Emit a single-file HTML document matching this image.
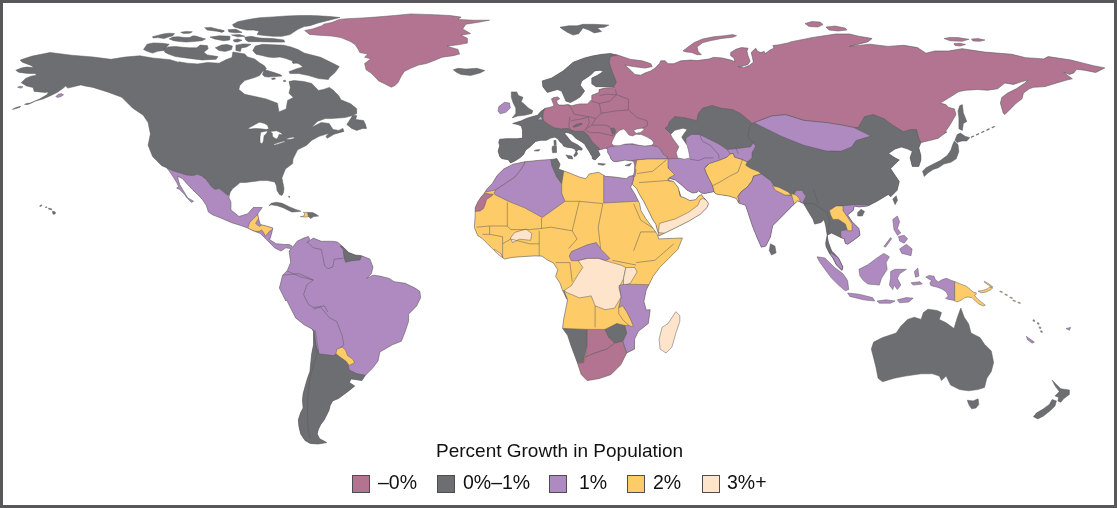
<!DOCTYPE html>
<html><head><meta charset="utf-8"><title>Percent Growth in Population</title>
<style>
html,body{margin:0;padding:0;background:#fff;}
#frame{position:relative;width:1117px;height:508px;box-sizing:border-box;border:3px solid #58585b;background:#fff;overflow:hidden;}
#map{position:absolute;left:-3px;top:-3px;}
#title{position:absolute;left:433px;top:437px;white-space:nowrap;font:19px "Liberation Sans",Arial,sans-serif;color:#111;}
.lg{position:absolute;top:472px;width:18px;height:18px;box-sizing:border-box;border:1px solid #4d4d4f;}
.lt{position:absolute;top:468px;font:19.5px "Liberation Sans",Arial,sans-serif;color:#111;white-space:nowrap;}
</style></head><body>
<div id="frame">
<svg id="map" width="1117" height="508" viewBox="0 0 1117 508">
<defs><path id="p_mx" d="M166.9,167.9 169.8,171.8 173.8,177.7 176.7,182.6 178.7,186.6 176.7,188.1 179.7,189.5 184.6,194.4 186.6,197.4 190.5,199.4 193.5,201.3 191.5,202.3 188.5,199.4 185.6,194.4 182.6,189.5 179.7,184.6 178.2,179.7 177.7,176.2 182.6,178.7 187.6,184.6 192.5,189.5 197.4,194.4 202.3,199.4 206.3,205.3 208.4,212.0 213.0,215.0 219.1,217.3 231.7,222.7 240.6,225.4 247.8,228.1 253.2,230.8 260.4,233.5 263.9,237.1 271.1,244.2 274.5,247.8 281.0,251.0 285.8,247.8 290.7,248.6 292.3,246.1 289.1,244.5 284.2,244.5 276.1,243.7 269.7,239.7 271.1,235.3 272.9,228.1 267.5,226.3 260.4,224.5 258.6,219.1 257.7,213.8 262.2,207.5 253.2,207.5 247.8,213.8 238.9,216.5 233.5,212.0 230.9,210.0 230.9,202.3 228.9,197.4 229.9,192.5 227.9,195.4 223.0,191.5 219.1,188.5 215.1,189.5 211.2,186.6 206.3,179.7 201.3,175.7 197.4,174.3 192.5,175.7 185.6,174.8 179.7,172.8 172.8,170.8Z"/><clipPath id="mx"><use href="#p_mx"/></clipPath><path id="p_sa" d="M292.3,247.8 297.1,241.3 303.6,238.1 308.4,236.5 310.0,239.7 306.8,242.9 313.3,238.1 321.3,241.3 332.7,241.3 337.5,242.1 344.0,247.8 348.8,252.6 355.3,255.0 361.7,255.8 369.8,259.1 373.0,267.1 371.4,273.6 366.6,278.4 373.0,275.2 379.5,276.0 389.2,278.4 394.0,281.7 405.3,283.3 415.0,288.1 419.8,291.3 420.6,297.8 416.6,305.9 408.5,314.3 408.5,321.5 404.9,332.3 401.3,341.2 392.3,344.8 379.8,352.0 378.0,360.9 372.6,368.1 365.4,375.3 361.9,380.6 351.1,378.9 349.3,382.4 354.7,386.0 353.9,386.7 348.0,391.4 338.5,398.5 332.6,400.9 330.2,405.6 329.0,410.3 326.7,415.0 324.3,419.8 320.8,424.5 318.4,429.2 317.2,433.9 319.6,438.7 326.7,442.6 318.0,444.0 310.2,443.4 305.0,440.5 300.7,433.9 299.0,427.0 298.3,419.8 300.5,413.0 303.1,408.0 302.5,400.0 303.1,393.8 305.5,385.0 307.8,377.2 309.9,371.7 311.7,353.8 313.5,344.8 313.5,331.4 311.7,328.7 304.5,325.1 295.6,317.9 292.0,310.8 286.6,300.0 285.8,301.0 282.6,294.6 279.4,288.1 281.0,281.7 282.6,275.2 287.4,270.4 290.7,262.3 289.1,251.0Z"/><clipPath id="sa"><use href="#p_sa"/></clipPath><path id="p_eu" d="M542.2,80.9 551.6,78.1 563.1,70.9 573.1,62.3 584.6,57.9 593.3,55.8 601.9,54.3 610.5,53.6 617.7,55.1 622.0,56.5 630.6,59.4 642.1,60.8 650.8,63.7 652.2,66.6 645.0,68.0 633.5,66.6 624.9,65.1 630.6,70.2 634.9,74.5 640.7,75.2 645.0,73.0 650.8,70.9 655.1,68.0 659.4,63.7 660.8,60.8 665.1,60.8 668.0,63.7 673.8,63.7 680.9,60.8 690.6,60.1 697.1,60.6 709.0,59.0 713.3,57.4 722.0,57.9 730.7,60.1 735.0,61.7 733.9,57.9 730.7,55.7 730.7,52.5 736.1,49.2 741.5,47.6 748.0,48.2 746.9,51.4 748.0,55.7 750.1,61.2 748.0,64.4 741.5,66.6 738.2,66.6 743.6,67.7 749.1,65.5 753.4,62.2 752.3,56.8 751.2,52.5 755.6,48.2 757.7,51.4 761.0,52.5 764.2,51.4 765.3,53.6 770.0,50.0 774.0,48.2 772.9,45.5 778.3,44.9 789.1,42.7 790.6,41.9 813.2,37.4 835.9,34.0 849.5,34.0 858.5,36.2 872.1,38.5 867.6,41.9 849.5,46.4 869.8,44.2 888.0,46.4 903.8,45.3 917.4,47.6 925.9,53.2 934.9,51.0 948.5,51.0 962.1,48.7 984.8,52.1 1011.9,54.3 1025.5,57.7 1043.6,58.9 1048.2,56.6 1070.8,60.0 1084.4,63.4 1093.4,65.7 1104.8,67.9 1095.7,72.5 1084.4,70.2 1076.6,69.3 1073.8,72.9 1069.4,74.4 1063.7,72.2 1068.0,75.8 1072.3,78.7 1066.6,80.1 1056.5,83.0 1045.0,86.6 1033.5,87.3 1029.2,88.8 1023.4,93.1 1022.0,98.8 1016.3,103.1 1010.5,108.9 1004.8,114.6 1003.3,113.2 1000.4,103.1 1001.9,97.4 1007.6,93.1 1016.3,88.8 1024.9,83.0 1027.8,80.1 1022.0,81.6 1013.4,84.4 1004.8,83.0 997.6,88.8 987.5,90.2 977.4,89.5 965.9,90.2 958.8,91.6 947.3,98.8 940.1,103.1 945.8,104.6 948.7,107.4 954.4,108.9 955.9,114.6 950.1,124.7 944.4,133.0 946.9,131.8 938.2,138.3 929.6,140.5 920.9,142.6 918.8,148.0 920.9,155.6 920.9,159.9 918.8,166.4 912.3,166.4 910.1,157.8 912.3,151.3 907.9,149.1 901.4,147.0 894.9,149.1 888.5,153.5 894.9,157.8 899.3,159.9 894.9,164.3 890.6,168.6 894.9,175.1 899.3,181.6 897.1,190.3 890.6,196.8 888.3,194.5 877.0,201.3 867.9,205.9 858.9,207.0 854.3,205.9 853.2,210.4 847.6,214.9 852.1,221.7 858.9,228.5 860.0,235.3 854.3,239.8 847.6,244.3 845.3,243.2 844.2,238.7 840.8,237.6 836.2,235.3 831.7,233.0 827.2,235.3 828.3,242.1 831.7,251.1 838.5,257.9 843.0,267.0 841.9,270.4 836.2,264.7 832.8,257.9 829.4,253.4 826.0,246.6 825.7,243.0 827.2,235.1 825.7,225.7 824.1,219.4 821.0,222.5 814.6,224.1 813.1,219.4 808.3,211.5 803.6,203.6 797.6,200.8 793.0,205.3 788.5,209.8 779.5,218.9 772.7,225.7 770.4,237.0 765.9,246.1 761.3,247.2 756.8,237.0 752.3,225.7 747.8,212.1 745.5,205.3 738.7,203.0 736.4,198.5 729.6,196.2 716.1,194.0 713.8,191.7 705.0,193.5 701.6,193.1 698.6,190.8 697.1,192.3 692.7,193.1 686.8,190.1 682.4,185.7 675.0,179.8 670.0,178.5 668.0,180.0 673.5,181.5 677.9,187.2 679.0,190.5 681.0,196.8 683.9,197.5 689.8,200.5 695.7,199.7 698.6,196.0 701.6,194.5 703.0,197.0 706.0,200.0 708.5,203.5 707.0,207.6 700.2,214.3 688.9,221.1 675.3,227.9 658.7,236.0 658.7,234.4 657.3,230.0 655.8,224.1 652.8,219.7 649.9,213.7 646.9,207.8 644.0,201.9 639.5,194.5 636.6,188.6 632.2,184.2 633.5,179.0 633.6,175.0 634.7,170.9 634.7,165.5 633.6,161.2 625.0,160.1 616.3,161.7 613.1,161.2 610.9,159.0 609.8,155.7 607.7,152.5 607.7,149.2 605.5,148.2 602.2,149.2 597.9,150.3 600.1,154.7 597.9,157.2 595.2,159.9 592.6,159.0 591.9,156.0 590.7,154.4 589.5,152.0 587.8,149.6 586.0,146.7 584.8,144.3 582.5,142.5 578.9,140.2 576.0,138.4 573.6,136.0 571.8,134.3 568.9,133.1 566.5,132.5 564.7,133.1 564.7,133.7 567.1,136.6 569.5,139.6 571.8,142.0 575.4,143.7 577.7,144.9 580.7,147.3 582.5,149.0 581.3,150.2 578.9,149.6 577.1,150.8 576.5,152.0 577.7,153.2 576.8,155.0 574.5,156.8 573.8,155.0 575.4,153.2 576.0,151.4 574.8,149.0 571.8,147.9 567.1,147.3 563.5,146.1 562.4,143.7 560.0,142.0 558.0,139.0 555.0,137.1 550.6,138.1 546.3,140.3 540.9,140.3 535.5,141.4 530.1,146.8 525.7,150.1 523.6,154.4 520.3,157.6 514.9,160.9 510.6,163.0 508.4,159.8 501.9,158.7 499.7,156.5 498.1,151.1 499.7,145.7 498.7,142.5 499.7,139.2 506.2,138.7 517.1,138.7 522.5,138.1 522.5,134.9 522.5,130.6 521.4,126.2 518.1,124.6 512.7,123.5 521.4,120.8 526.3,118.4 532.6,116.5 537.6,115.2 540.8,111.4 545.2,108.3 549.0,107.6 552.8,106.4 554.0,105.1 552.8,102.6 551.5,98.8 554.0,97.6 557.8,96.9 559.7,98.8 556.5,100.7 557.2,103.2 559.1,105.1 564.1,105.1 567.9,104.5 571.7,105.8 576.7,104.5 580.0,103.9 581.8,103.9 587.5,103.9 591.8,99.6 591.8,95.3 599.0,92.4 599.0,89.6 604.8,88.1 614.8,87.4 613.4,86.7 604.8,86.7 596.1,86.7 591.8,83.8 591.8,78.1 597.6,75.2 603.3,71.6 600.4,70.2 594.7,70.9 590.4,75.2 581.8,80.9 580.3,85.3 584.6,91.0 580.3,96.8 576.0,99.6 570.3,102.5 565.9,101.1 561.6,91.0 557.3,89.6 547.3,92.4 542.9,86.7Z"/><clipPath id="eu"><use href="#p_eu"/></clipPath><path id="p_af" d="M513.3,164.2 524.6,161.8 540.7,160.2 552.0,159.4 556.9,158.6 560.1,164.2 558.5,169.1 569.8,173.1 579.5,177.1 585.9,178.7 589.2,173.9 598.8,172.3 605.3,176.3 615.0,177.1 626.3,178.7 629.0,176.5 633.0,175.5 633.5,179.0 632.0,183.5 630.7,187.2 635.1,194.5 639.5,203.4 641.0,210.8 645.5,218.2 649.9,224.1 654.3,230.0 657.3,234.4 658.7,238.9 682.4,238.0 677.9,249.3 668.8,258.4 659.7,267.5 653.0,276.5 646.2,290.1 643.9,301.4 646.2,310.0 650.2,309.7 648.3,323.5 638.4,331.3 634.5,339.2 634.5,349.1 626.6,353.0 620.7,364.8 610.9,374.6 599.1,378.6 587.2,380.6 581.3,374.6 577.4,362.8 571.5,347.1 567.6,335.3 562.6,328.4 563.6,319.5 565.6,309.7 567.6,299.8 563.6,290.0 566.9,299.2 562.4,290.1 560.1,283.3 555.6,276.5 557.8,269.7 553.3,262.9 546.5,259.5 542.0,256.1 534.3,255.9 521.7,256.7 512.2,257.4 504.4,259.0 498.1,254.3 493.3,249.6 487.0,243.3 482.3,238.5 477.6,235.4 474.4,227.5 475.2,214.9 475.2,207.8 477.6,202.3 480.7,197.6 483.9,193.7 487.4,188.4 492.3,183.6 497.1,175.5 503.6,169.1Z"/><clipPath id="af"><use href="#p_af"/></clipPath></defs>
<path d="M20.2,60.0 32.2,56.1 50.1,52.5 71.6,55.2 93.1,57.0 111.0,59.3 125.3,57.0 139.7,55.8 152.2,57.9 170.1,59.7 179.1,62.4 178.8,61.8 187.4,63.2 197.5,63.9 207.6,62.5 219.1,63.2 226.3,59.6 232.0,57.4 232.9,52.0 244.7,53.9 247.6,56.9 254.5,58.9 259.5,62.8 264.4,65.8 266.4,68.7 262.4,71.7 259.5,75.6 254.5,77.6 244.7,80.5 239.8,85.5 238.8,89.4 244.7,94.3 266.0,98.9 277.5,103.3 278.9,111.9 286.1,109.0 287.6,100.4 293.3,97.5 289.0,93.2 290.4,87.4 289.0,81.5 293.9,80.5 303.8,81.5 311.7,83.5 315.6,87.4 318.5,90.4 323.5,89.4 329.4,87.4 333.0,90.0 338.9,95.9 340.9,99.8 350.7,103.8 356.7,108.7 356.7,113.6 352.7,115.6 344.8,117.6 331.1,118.6 325.1,118.6 317.3,121.5 311.4,127.4 321.2,122.5 329.1,123.5 333.0,129.4 338.9,130.4 342.9,128.4 343.9,131.4 334.0,134.3 327.1,138.3 326.1,136.3 329.1,133.3 319.2,136.3 312.3,140.0 311.2,140.8 306.6,145.3 297.6,149.8 293.0,158.9 292.6,163.6 285.4,169.0 281.9,177.9 284.0,188.5 283.5,192.5 282.0,195.5 279.5,194.5 277.0,190.5 276.5,186.0 274.7,182.0 267.5,180.6 260.4,180.6 253.2,181.5 246.0,182.4 240.0,182.6 237.8,184.6 232.8,188.5 229.9,192.5 227.9,195.4 223.0,191.5 219.1,188.5 215.1,189.5 211.2,186.6 206.3,179.7 201.3,175.7 197.4,174.3 192.5,175.7 185.6,174.8 179.7,172.8 172.8,170.8 166.9,167.9 161.7,165.7 152.6,156.6 148.1,145.3 150.4,134.0 148.1,122.6 143.2,115.2 132.5,108.0 121.8,97.3 107.4,91.9 93.1,87.4 85.0,86.0 80.8,84.9 76.4,86.0 72.1,87.1 67.8,88.1 65.6,86.0 63.4,88.1 57.0,92.5 50.5,95.7 42.9,99.0 35.3,101.1 29.9,103.8 26.6,104.4 32.1,102.2 39.6,99.0 47.2,94.6 48.3,91.9 45.0,92.5 39.6,91.9 34.2,91.4 33.1,87.6 26.6,86.0 21.2,82.7 25.6,78.4 31.0,76.2 36.4,75.2 35.3,73.5 28.8,73.5 19.1,72.4 15.8,70.3 21.2,68.1 26.6,67.0 34.2,67.6 31.0,65.4 22.3,62.2Z" fill="#6d6e71" stroke="#5a5a5c" stroke-width="0.5" stroke-linejoin="round"/>
<path d="M12.4,109.4 16.0,107.5 20.5,106.2 20.0,107.2 16.0,108.6Z" fill="#6d6e71" stroke="#5a5a5c" stroke-width="0.5" stroke-linejoin="round"/>
<path d="M17.5,87.2 20.0,86.2 23.0,86.8 21.0,88.2Z" fill="#af8ac1" stroke="#5a5a5c" stroke-width="0.5" stroke-linejoin="round"/>
<path d="M24.5,104.4 27.0,103.2 29.0,103.4 27.0,104.6Z" fill="#af8ac1" stroke="#5a5a5c" stroke-width="0.5" stroke-linejoin="round"/>
<path d="M55.8,96.6 58.0,94.4 61.0,93.6 63.6,94.8 61.0,96.6 57.5,97.4Z" fill="#af8ac1" stroke="#5a5a5c" stroke-width="0.5" stroke-linejoin="round"/>
<path d="M346.8,124.5 352.7,115.6 356.7,115.6 355.7,119.5 363.5,120.5 365.5,124.5 366.5,128.4 362.6,128.4 356.7,130.4 351.7,128.4Z" fill="#6d6e71" stroke="#5a5a5c" stroke-width="0.5" stroke-linejoin="round"/>
<path d="M152.4,36.7 157.7,35.4 163.0,34.0 169.2,33.2 174.5,33.6 172.8,35.8 168.3,37.1 163.9,38.5 157.7,37.6 153.3,38.0Z" fill="#6d6e71" stroke="#5a5a5c" stroke-width="0.5" stroke-linejoin="round"/>
<path d="M169.2,38.9 172.8,37.1 178.1,36.7 184.3,37.6 189.6,37.6 193.1,35.8 196.7,36.3 202.0,38.0 205.5,38.9 202.0,40.7 193.1,41.6 186.1,42.0 179.9,41.6 173.7,40.7Z" fill="#6d6e71" stroke="#5a5a5c" stroke-width="0.5" stroke-linejoin="round"/>
<path d="M180.7,32.3 186.1,31.4 192.3,31.8 189.6,33.2 183.4,33.4Z" fill="#6d6e71" stroke="#5a5a5c" stroke-width="0.5" stroke-linejoin="round"/>
<path d="M204.7,27.8 210.9,27.4 217.9,29.2 224.1,30.9 221.5,31.8 214.4,30.9 207.3,30.1Z" fill="#6d6e71" stroke="#5a5a5c" stroke-width="0.5" stroke-linejoin="round"/>
<path d="M210.0,37.1 219.7,35.8 230.0,36.3 229.7,39.9 223.5,40.8 214.4,38.9Z" fill="#6d6e71" stroke="#5a5a5c" stroke-width="0.5" stroke-linejoin="round"/>
<path d="M143.5,49.5 147.1,44.2 153.3,42.9 162.1,43.3 169.2,44.2 166.6,46.9 163.9,50.4 157.7,51.3 152.4,53.1 147.1,51.3Z" fill="#6d6e71" stroke="#5a5a5c" stroke-width="0.5" stroke-linejoin="round"/>
<path d="M163.9,48.7 168.3,46.9 175.4,46.4 182.5,47.3 189.6,47.8 196.7,47.8 200.2,45.1 207.3,45.6 208.2,48.7 203.8,52.2 207.3,54.9 217.9,56.6 216.2,59.3 202.0,60.0 189.6,58.4 175.4,56.6 168.3,54.0 164.8,52.2Z" fill="#6d6e71" stroke="#5a5a5c" stroke-width="0.5" stroke-linejoin="round"/>
<path d="M215.3,47.8 221.5,45.1 227.0,44.5 232.4,46.1 231.5,49.6 225.3,51.4 219.0,50.5Z" fill="#6d6e71" stroke="#5a5a5c" stroke-width="0.5" stroke-linejoin="round"/>
<path d="M232.4,24.8 237.7,21.7 248.3,19.5 259.9,17.7 273.1,16.9 286.4,16.0 299.7,15.5 310.0,15.5 318.0,15.8 330.0,16.5 340.0,17.5 330.0,20.0 318.0,23.0 310.0,25.7 304.1,26.6 297.9,29.3 290.0,34.6 282.0,36.3 273.1,36.3 264.3,35.5 257.2,34.6 259.0,31.0 253.7,30.1 246.6,30.1 239.5,28.4 234.2,27.0Z" fill="#6d6e71" stroke="#5a5a5c" stroke-width="0.5" stroke-linejoin="round"/>
<path d="M244.8,37.2 251.0,36.3 259.9,38.1 273.1,38.6 283.8,39.9 284.7,42.1 273.1,42.1 259.9,41.7 248.3,41.7 245.7,39.9Z" fill="#6d6e71" stroke="#5a5a5c" stroke-width="0.5" stroke-linejoin="round"/>
<path d="M228.0,29.7 236.0,29.3 242.1,32.4 235.1,32.8 228.9,31.9Z" fill="#6d6e71" stroke="#5a5a5c" stroke-width="0.5" stroke-linejoin="round"/>
<path d="M231.5,35.0 239.5,34.6 244.8,36.3 237.7,36.8Z" fill="#6d6e71" stroke="#5a5a5c" stroke-width="0.5" stroke-linejoin="round"/>
<path d="M233.3,39.9 237.7,39.0 242.1,40.3 237.7,42.1 234.2,41.7Z" fill="#6d6e71" stroke="#5a5a5c" stroke-width="0.5" stroke-linejoin="round"/>
<path d="M220.0,29.7 224.4,31.0 221.8,32.4 218.0,31.0Z" fill="#6d6e71" stroke="#5a5a5c" stroke-width="0.5" stroke-linejoin="round"/>
<path d="M235.9,45.2 243.0,43.9 251.0,44.3 246.6,47.0 241.3,47.9 240.4,51.4 235.9,50.5Z" fill="#6d6e71" stroke="#5a5a5c" stroke-width="0.5" stroke-linejoin="round"/>
<path d="M252.8,50.5 255.4,46.1 262.5,44.3 273.1,44.8 283.8,45.2 290.9,47.0 298.0,49.6 304.1,53.0 320.6,57.3 329.3,61.6 339.3,66.6 335.0,72.6 331.0,76.0 329.4,77.6 328.4,79.5 318.5,78.6 308.7,75.6 298.9,73.6 290.0,73.6 289.0,71.7 296.0,69.0 303.0,67.0 300.0,64.5 294.0,61.5 286.0,58.5 280.0,57.0 274.0,57.5 268.0,57.0 262.0,55.5 256.0,54.2Z" fill="#6d6e71" stroke="#5a5a5c" stroke-width="0.5" stroke-linejoin="round"/>
<path d="M264.4,69.7 268.3,70.7 274.2,72.6 280.1,74.6 282.1,76.1 274.2,76.6 268.3,77.1 264.4,76.6 262.4,74.6Z" fill="#6d6e71" stroke="#5a5a5c" stroke-width="0.5" stroke-linejoin="round"/>
<path d="M271.5,78.6 274.5,77.8 275.5,79.0 272.0,79.6Z" fill="#6d6e71" stroke="#5a5a5c" stroke-width="0.5" stroke-linejoin="round"/>
<path d="M283.5,80.5 285.5,80.2 285.6,81.6 283.6,81.6Z" fill="#6d6e71" stroke="#5a5a5c" stroke-width="0.5" stroke-linejoin="round"/>
<path d="M292.0,61.8 296.0,61.0 297.5,63.0 293.0,63.4Z" fill="#6d6e71" stroke="#5a5a5c" stroke-width="0.5" stroke-linejoin="round"/>
<path d="M304.7,30.5 312.6,28.9 322.0,25.7 323.6,24.2 331.5,22.6 339.4,19.4 347.2,18.7 363.0,17.9 375.6,17.1 385.0,16.3 394.5,15.5 410.7,13.9 434.4,14.7 450.1,15.5 461.1,17.1 458.0,19.4 473.7,20.2 489.5,20.2 476.9,22.6 465.9,24.2 462.7,28.9 470.6,33.6 461.1,35.2 467.4,38.3 467.4,43.1 459.6,44.6 447.0,46.2 458.0,49.4 459.6,54.1 453.3,55.7 442.2,57.2 434.4,60.4 426.5,63.5 418.6,65.1 410.7,68.3 404.4,71.4 401.3,76.1 398.1,82.4 395.0,85.6 391.3,87.2 385.0,84.0 378.7,80.9 374.0,76.1 370.9,73.0 366.1,69.8 364.6,63.5 370.9,58.8 364.6,57.2 367.7,54.1 359.8,52.5 358.3,49.4 355.1,44.6 350.4,41.5 340.9,37.6 331.5,36.0 318.9,35.2 309.4,34.4Z" fill="#b27491" stroke="#5a5a5c" stroke-width="0.5" stroke-linejoin="round"/>
<path d="M453.3,69.8 458.0,68.3 465.9,69.1 476.9,68.3 484.8,70.6 480.0,73.0 470.6,75.4 461.1,74.6 456.4,72.2Z" fill="#6d6e71" stroke="#5a5a5c" stroke-width="0.5" stroke-linejoin="round"/>
<path d="M247.6,128.4 252.4,126.0 259.3,122.2 264.1,123.3 267.5,125.3 268.9,128.8 266.2,129.5 260.7,128.8 255.2,128.4 250.3,129.1Z" fill="#ffffff" stroke="#5a5a5c" stroke-width="0.5" stroke-linejoin="round"/>
<path d="M260.7,132.2 267.5,130.8 266.9,132.9 264.1,135.7 263.4,141.2 262.0,143.9 260.0,142.5 260.0,137.0Z" fill="#ffffff" stroke="#5a5a5c" stroke-width="0.5" stroke-linejoin="round"/>
<path d="M270.3,131.5 276.5,130.8 281.3,132.9 282.7,135.0 279.3,134.3 277.2,139.1 275.1,138.4 272.4,136.3 272.4,133.6Z" fill="#ffffff" stroke="#5a5a5c" stroke-width="0.5" stroke-linejoin="round"/>
<path d="M273.7,144.3 278.6,142.5 284.8,140.8 284.8,141.9 278.6,143.9 274.4,145.3Z" fill="#ffffff" stroke="#5a5a5c" stroke-width="0.5" stroke-linejoin="round"/>
<path d="M285.5,139.1 290.3,137.4 294.4,137.0 293.7,138.8 288.2,139.4Z" fill="#ffffff" stroke="#5a5a5c" stroke-width="0.5" stroke-linejoin="round"/>
<use href="#p_mx" fill="#af8ac1"/>
<path d="M247.7,228.4 249.7,222.5 253.6,218.5 256.6,215.6 259.5,214.1 260.5,215.6 258.5,218.5 255.6,223.5 259.5,226.4 262.5,224.4 271.3,224.9 276.0,227.4 269.4,231.3 265.4,236.3 263.5,232.3 261.5,229.9 259.5,231.3 255.6,231.3 251.7,230.4Z" fill="#fdcb68" stroke="#5a5a5c" stroke-width="0.5" clip-path="url(#mx)"/>
<use href="#p_mx" fill="none" stroke="#5a5a5c" stroke-width="0.6"/>
<path d="M268.9,205.7 271.3,203.3 276.3,202.3 282.2,203.3 289.1,206.7 295.0,209.2 300.9,211.2 296.9,211.7 292.0,212.1 289.1,210.7 283.1,207.7 277.2,205.7 271.3,204.8Z" fill="#6d6e71" stroke="#5a5a5c" stroke-width="0.5" stroke-linejoin="round"/>
<path d="M300.4,216.6 303.8,216.1 304.8,213.6 303.3,212.4 307.8,212.4 308.5,216.6 304.8,217.1Z" fill="#fdcb68" stroke="#5a5a5c" stroke-width="0.5" stroke-linejoin="round"/>
<path d="M307.8,212.4 312.7,212.6 315.6,214.1 318.6,216.1 313.7,216.6 310.7,218.5 308.5,216.6Z" fill="#6d6e71" stroke="#5a5a5c" stroke-width="0.5" stroke-linejoin="round"/>
<path d="M288.5,196.2 289.8,196.5 289.3,197.8Z" fill="#6d6e71" stroke="#5a5a5c" stroke-width="0.5" stroke-linejoin="round"/>
<path d="M39.5,206.0 41.5,204.8 42.0,205.6 40.0,206.6Z" fill="#6d6e71" stroke="#5a5a5c" stroke-width="0.5" stroke-linejoin="round"/>
<path d="M45.5,207.0 46.8,206.8 46.8,207.6 45.5,207.6Z" fill="#6d6e71" stroke="#5a5a5c" stroke-width="0.5" stroke-linejoin="round"/>
<path d="M48.5,208.2 51.5,208.8 51.8,209.8 48.8,209.2Z" fill="#6d6e71" stroke="#5a5a5c" stroke-width="0.5" stroke-linejoin="round"/>
<path d="M52.5,211.2 54.5,211.5 55.8,213.0 54.0,214.5 52.8,213.8Z" fill="#6d6e71" stroke="#5a5a5c" stroke-width="0.5" stroke-linejoin="round"/>
<use href="#p_sa" fill="#af8ac1"/>
<path d="M343.1,249.4 340.0,246.0 366.0,250.0 366.0,256.0 361.7,255.8 360.1,259.9 352.0,260.7 345.6,262.3 344.0,257.4Z" fill="#6d6e71" stroke="#5a5a5c" stroke-width="0.5" clip-path="url(#sa)"/>
<path d="M290.0,328.0 311.7,328.7 314.5,332.0 316.0,345.0 318.9,353.8 333.2,355.6 336.8,353.8 340.4,357.3 345.7,360.9 347.5,362.7 349.3,369.9 356.5,373.5 365.4,375.3 372.0,376.0 380.0,380.0 380.0,460.0 290.0,460.0Z" fill="#6d6e71" stroke="#5a5a5c" stroke-width="0.5" clip-path="url(#sa)"/>
<path d="M336.8,349.3 342.2,347.0 345.7,350.2 347.5,355.6 352.9,359.1 354.7,362.7 349.3,365.4 345.7,360.9 340.4,357.3 335.9,353.8Z" fill="#fdcb68" stroke="#5a5a5c" stroke-width="0.5" clip-path="url(#sa)"/>
<path d="M308.4,242.9 313.3,247.8 321.3,249.4 323.0,257.4 324.6,265.5 327.8,268.7 332.7,267.1 334.3,259.1 343.1,258.3" fill="none" stroke="#5a5a5c" stroke-width="0.5" clip-path="url(#sa)"/>
<path d="M285.8,270.4 300.4,276.8 313.3,280.0 306.8,284.9 303.6,294.6 308.4,304.3 313.3,307.5 324.6,305.9 327.8,312.0" fill="none" stroke="#5a5a5c" stroke-width="0.5" clip-path="url(#sa)"/>
<path d="M282.6,275.2 298.7,273.6 313.3,280.0" fill="none" stroke="#5a5a5c" stroke-width="0.5" clip-path="url(#sa)"/>
<path d="M313.5,309.0 320.6,307.2 329.6,317.9 336.8,321.5 342.2,335.8 343.9,344.8 340.4,347.5" fill="none" stroke="#5a5a5c" stroke-width="0.5" clip-path="url(#sa)"/>
<path d="M313.5,331.4 315.3,330.5 318.9,353.8" fill="none" stroke="#5a5a5c" stroke-width="0.5" clip-path="url(#sa)"/>
<path d="M312.5,331.0 315.5,343.0 317.2,353.6 313.5,365.0 310.2,377.2 308.5,390.0 307.8,400.9 307.5,412.0 307.8,424.5 308.5,432.0 310.2,438.7" fill="none" stroke="#5a5a5c" stroke-width="0.5" clip-path="url(#sa)"/>
<use href="#p_sa" fill="none" stroke="#5a5a5c" stroke-width="0.6"/>
<use href="#p_eu" fill="#b27491"/>
<path d="M617.7,55.1 610.5,56.5 609.1,62.3 611.9,70.9 614.8,78.1 616.3,82.4 613.4,86.7 600.0,88.0 585.0,95.0 575.0,103.0 566.0,102.0 560.0,95.0 550.0,94.0 535.0,90.0 530.0,75.0 600.0,45.0 618.0,45.0Z" fill="#6d6e71" stroke="#5a5a5c" stroke-width="0.5" clip-path="url(#eu)"/>
<path d="M546.0,100.0 545.2,108.3 543.3,112.1 542.7,116.5 543.3,120.2 548.2,124.2 554.1,127.7 561.2,128.9 568.3,128.3 570.6,130.1 575.3,131.3 583.6,131.3 587.8,134.9 590.1,138.4 591.9,141.4 594.3,143.7 596.6,146.1 599.0,147.9 600.5,152.0 602.0,160.0 600.0,170.0 490.0,170.0 490.0,100.0Z" fill="#6d6e71" stroke="#5a5a5c" stroke-width="0.5" clip-path="url(#eu)"/>
<path d="M611.0,128.5 614.0,128.0 615.5,131.0 614.5,134.0 612.5,133.5 612.0,131.0Z" fill="#6d6e71" stroke="#5a5a5c" stroke-width="0.5" clip-path="url(#eu)"/>
<path d="M537.8,119.8 540.8,116.3 542.6,119.8Z" fill="#b4c3dc" stroke="#5a5a5c" stroke-width="0.5" clip-path="url(#eu)"/>
<path d="M573.0,126.5 576.0,124.5 581.0,123.2 582.4,124.0 578.0,126.0 574.0,127.2Z" fill="#6d6e71" stroke="#5a5a5c" stroke-width="0.5" clip-path="url(#eu)"/>
<path d="M665.0,128.0 667.9,126.2 669.3,122.0 674.8,116.5 685.8,117.9 696.8,120.7 698.2,113.8 702.4,108.3 712.0,105.5 721.6,108.3 732.7,109.6 740.9,113.8 749.2,120.7 752.0,123.4 754.0,122.6 772.1,115.9 785.7,114.7 803.8,120.4 826.4,122.6 843.0,125.3 853.8,127.5 858.1,127.5 864.6,116.6 873.3,114.5 884.1,118.8 892.8,125.3 903.6,131.8 910.1,129.6 916.6,129.6 918.8,138.3 920.9,142.6 930.0,150.0 930.0,240.0 860.0,270.0 830.0,270.0 800.0,215.0 760.0,200.0 740.0,170.0 700.0,150.0 672.0,135.0Z" fill="#6d6e71" stroke="#5a5a5c" stroke-width="0.5" clip-path="url(#eu)"/>
<path d="M754.0,122.6 772.1,115.9 785.7,114.7 803.8,120.4 826.4,122.6 843.0,125.3 853.8,127.5 871.1,136.1 856.0,140.5 851.6,147.0 840.8,151.3 826.4,151.0 803.8,145.3 781.2,136.2 758.5,125.0Z" fill="#af8ac1" stroke="#5a5a5c" stroke-width="0.5" clip-path="url(#eu)"/>
<path d="M686.0,138.0 691.3,134.4 699.6,134.4 707.9,138.6 718.9,144.1 727.2,149.6 739.6,148.2 750.6,146.8 753.3,142.7 755.5,146.0 754.7,148.2 752.0,152.4 752.0,158.0 747.2,162.0 742.5,159.7 734.6,157.3 733.1,153.4 729.9,154.2 726.8,157.3 718.9,160.5 709.4,163.6 706.4,165.7 704.7,168.3 706.3,173.1 709.4,179.4 712.6,185.7 714.2,192.0 715.5,196.0 705.0,195.0 698.0,192.5 692.0,195.0 686.0,192.0 681.0,187.0 674.5,180.5 669.0,178.0 668.0,168.0 666.0,160.0 668.0,158.9 683.8,158.0 686.0,150.0Z" fill="#af8ac1" stroke="#5a5a5c" stroke-width="0.5" clip-path="url(#eu)"/>
<path d="M704.7,168.3 709.4,163.6 718.9,160.5 726.8,157.3 729.9,154.2 733.1,153.4 734.6,157.3 742.5,159.7 747.2,162.0 745.7,165.2 750.4,168.3 758.3,171.5 761.4,173.9 753.5,176.2 752.0,180.9 747.2,187.2 740.9,192.0 737.8,196.7 739.4,200.6 725.0,205.0 713.0,200.0 714.2,192.0 712.6,185.7 709.4,179.4 706.3,173.1Z" fill="#fdcb68" stroke="#5a5a5c" stroke-width="0.5" clip-path="url(#eu)"/>
<path d="M739.4,200.6 737.8,196.7 740.9,192.0 747.2,187.2 752.0,180.9 753.5,176.2 761.4,173.9 764.6,176.2 770.9,180.9 774.0,185.7 775.6,187.2 788.5,195.1 791.3,195.1 794.5,193.5 796.1,190.4 802.4,190.4 803.9,193.5 806.0,196.0 802.1,204.2 795.0,215.0 780.0,260.0 760.0,260.0 735.0,210.0Z" fill="#af8ac1" stroke="#5a5a5c" stroke-width="0.5" clip-path="url(#eu)"/>
<path d="M772.4,185.7 778.7,187.2 788.2,192.0 791.3,195.1 785.0,195.1 775.6,190.4Z" fill="#fdcb68" stroke="#5a5a5c" stroke-width="0.5" clip-path="url(#eu)"/>
<path d="M791.3,193.5 796.1,195.1 799.2,198.3 800.8,203.0 797.6,206.1 794.5,204.6 792.9,199.8Z" fill="#fdcb68" stroke="#5a5a5c" stroke-width="0.5" clip-path="url(#eu)"/>
<path d="M712.6,185.7 720.0,182.0 730.0,176.0 738.0,172.0 742.5,159.7" fill="none" stroke="#5a5a5c" stroke-width="0.5" clip-path="url(#eu)"/>
<path d="M840.8,205.9 854.3,204.7 870.0,205.0 870.0,250.0 845.0,250.0 840.8,235.3 840.8,230.8 847.6,229.6 845.3,224.0 838.5,219.4 843.0,210.4Z" fill="#af8ac1" stroke="#5a5a5c" stroke-width="0.5" clip-path="url(#eu)"/>
<path d="M829.4,210.4 836.2,205.9 843.0,205.9 843.0,210.4 847.6,217.2 852.1,224.0 852.1,230.8 847.6,230.8 845.3,224.0 838.5,219.4 832.8,219.4 830.6,214.9Z" fill="#fdcb68" stroke="#5a5a5c" stroke-width="0.5" clip-path="url(#eu)"/>
<path d="M831.7,253.4 838.5,257.9 843.0,267.0 841.9,270.4 836.2,264.7 832.8,257.9 829.4,253.9 834.0,251.1 845.3,253.4Z" fill="#af8ac1" stroke="#5a5a5c" stroke-width="0.5" clip-path="url(#eu)"/>
<path d="M606.0,148.5 610.4,146.6 614.8,146.0 620.0,144.5 630.0,144.0 640.0,145.5 652.0,145.7 657.3,146.6 660.9,150.1 663.5,154.5 668.0,157.2 665.3,159.0 656.4,159.0 647.6,159.0 636.9,159.9 634.0,160.0 625.0,164.0 610.0,164.0 604.0,152.0Z" fill="#af8ac1" stroke="#5a5a5c" stroke-width="0.5" clip-path="url(#eu)"/>
<path d="M636.9,159.9 647.6,159.0 656.4,159.0 665.3,159.0 668.0,158.9 668.0,168.0 674.7,174.7 669.0,178.0 674.5,180.5 681.0,187.0 686.0,192.0 692.0,195.0 698.0,192.5 705.0,195.0 702.0,215.0 690.0,240.0 650.0,240.0 625.0,190.0 630.0,176.0 635.0,168.0Z" fill="#fdcb68" stroke="#5a5a5c" stroke-width="0.5" clip-path="url(#eu)"/>
<path d="M628.0,166.0 633.5,166.5 636.0,170.0 635.0,176.0 633.5,178.0 628.0,180.0 626.0,174.0Z" fill="#af8ac1" stroke="#5a5a5c" stroke-width="0.5" clip-path="url(#eu)"/>
<path d="M679.0,190.5 681.0,189.5 682.5,192.0 681.5,196.5 680.0,196.0Z" fill="#af8ac1" stroke="#5a5a5c" stroke-width="0.5" clip-path="url(#eu)"/>
<path d="M668.0,178.5 671.0,178.0 673.0,180.5 670.0,181.5 668.0,180.5Z" fill="#fee4ca" stroke="#5a5a5c" stroke-width="0.5" clip-path="url(#eu)"/>
<path d="M658.3,232.5 659.4,223.4 675.3,218.9 688.9,212.1 697.9,205.3 700.2,199.6 702.9,198.5 711.5,201.9 709.3,214.3 675.3,234.7Z" fill="#fee4ca" stroke="#5a5a5c" stroke-width="0.5" clip-path="url(#eu)"/>
<use href="#p_eu" fill="none" stroke="#5a5a5c" stroke-width="0.6"/>
<path d="M683.0,50.9 687.3,47.6 693.8,42.7 702.5,39.0 713.3,36.8 724.2,35.7 732.8,34.6 736.6,35.7 732.8,37.3 722.0,38.4 711.2,40.6 702.5,42.7 697.1,47.1 698.2,51.4 701.4,54.7 697.1,54.7 691.7,52.5 686.2,52.0Z" fill="#b27491" stroke="#5a5a5c" stroke-width="0.5" stroke-linejoin="round"/>
<path d="M805.0,23.5 812.0,21.5 820.0,22.0 823.0,24.5 818.0,27.0 809.0,26.5Z" fill="#b27491" stroke="#5a5a5c" stroke-width="0.5" stroke-linejoin="round"/>
<path d="M826.0,27.0 835.0,26.0 845.0,28.0 847.0,30.0 838.0,31.0 829.0,30.0Z" fill="#b27491" stroke="#5a5a5c" stroke-width="0.5" stroke-linejoin="round"/>
<path d="M944.0,38.5 950.0,37.4 958.0,37.6 969.0,39.3 962.0,41.3 950.0,40.8Z" fill="#b27491" stroke="#5a5a5c" stroke-width="0.5" stroke-linejoin="round"/>
<path d="M971.5,39.0 978.0,38.6 985.0,40.0 980.0,41.3 973.0,41.0Z" fill="#b27491" stroke="#5a5a5c" stroke-width="0.5" stroke-linejoin="round"/>
<path d="M954.0,43.6 960.0,43.2 965.6,44.5 960.0,46.0 955.0,45.5Z" fill="#b27491" stroke="#5a5a5c" stroke-width="0.5" stroke-linejoin="round"/>
<path d="M612.1,141.3 615.7,134.2 619.2,130.6 623.7,128.9 626.3,131.5 629.0,135.1 632.5,135.9 636.1,134.2 641.4,134.6 646.7,136.8 652.0,139.9 653.8,143.0 652.0,145.2 644.9,146.1 638.7,145.2 632.5,143.7 625.4,144.1 619.2,145.7 613.9,145.7 611.7,143.5Z" fill="#ffffff" stroke="#5a5a5c" stroke-width="0.5" stroke-linejoin="round"/>
<path d="M633.4,130.6 636.9,128.9 643.1,128.0 644.0,129.7 640.5,132.4 636.1,133.3Z" fill="#ffffff" stroke="#5a5a5c" stroke-width="0.5" stroke-linejoin="round"/>
<path d="M670.7,134.4 674.8,130.3 683.1,128.2 687.2,129.6 684.4,133.1 681.7,137.2 684.4,141.3 687.2,145.5 688.6,151.0 690.0,157.9 684.4,159.2 677.6,157.9 676.2,152.4 678.9,146.8 674.8,141.3 672.0,137.2Z" fill="#ffffff" stroke="#5a5a5c" stroke-width="0.5" stroke-linejoin="round"/>
<path d="M567.7,104.5 571.0,107.7 574.2,114.2" fill="none" stroke="#5a5a5c" stroke-width="0.5" clip-path="url(#eu)"/>
<path d="M574.2,114.2 580.7,115.3 590.5,117.0 595.9,118.6" fill="none" stroke="#5a5a5c" stroke-width="0.5" clip-path="url(#eu)"/>
<path d="M599.2,103.4 600.2,107.7 601.3,113.2 595.9,118.6 591.6,125.1" fill="none" stroke="#5a5a5c" stroke-width="0.5" clip-path="url(#eu)"/>
<path d="M591.6,101.2 599.2,103.4 610.0,101.2 614.3,96.9 616.5,94.7" fill="none" stroke="#5a5a5c" stroke-width="0.5" clip-path="url(#eu)"/>
<path d="M599.2,95.8 605.7,94.2 614.3,94.7 616.5,94.7" fill="none" stroke="#5a5a5c" stroke-width="0.5" clip-path="url(#eu)"/>
<path d="M616.5,94.7 615.4,89.3" fill="none" stroke="#5a5a5c" stroke-width="0.5" clip-path="url(#eu)"/>
<path d="M616.5,94.7 628.4,99.1 628.4,109.9" fill="none" stroke="#5a5a5c" stroke-width="0.5" clip-path="url(#eu)"/>
<path d="M601.3,113.2 615.4,111.0 628.4,109.9" fill="none" stroke="#5a5a5c" stroke-width="0.5" clip-path="url(#eu)"/>
<path d="M628.4,109.9 637.1,117.5 646.8,120.7 647.9,125.1 642.5,128.3" fill="none" stroke="#5a5a5c" stroke-width="0.5" clip-path="url(#eu)"/>
<path d="M569.9,116.4 568.8,126.2 571.0,130.5" fill="none" stroke="#5a5a5c" stroke-width="0.5" clip-path="url(#eu)"/>
<path d="M571.0,120.7 580.7,119.1 588.3,117.0" fill="none" stroke="#5a5a5c" stroke-width="0.5" clip-path="url(#eu)"/>
<path d="M588.3,117.5 589.4,122.9 586.2,128.3" fill="none" stroke="#5a5a5c" stroke-width="0.5" clip-path="url(#eu)"/>
<path d="M584.0,130.5 591.6,125.1 605.7,125.1 610.0,127.2 613.2,135.9" fill="none" stroke="#5a5a5c" stroke-width="0.5" clip-path="url(#eu)"/>
<path d="M586.2,130.5 590.5,132.7 599.2,132.7 613.2,135.9" fill="none" stroke="#5a5a5c" stroke-width="0.5" clip-path="url(#eu)"/>
<path d="M830.0,151.3 840.8,151.3" fill="none" stroke="#5a5a5c" stroke-width="0.5" clip-path="url(#eu)"/>
<path d="M752.0,123.4 749.2,127.6 747.8,137.2 753.3,142.7" fill="none" stroke="#5a5a5c" stroke-width="0.5" clip-path="url(#eu)"/>
<path d="M690.0,159.2 698.2,160.6 705.1,157.9 713.4,157.9" fill="none" stroke="#5a5a5c" stroke-width="0.5" clip-path="url(#eu)"/>
<path d="M699.6,134.4 702.4,141.3 710.6,145.5 718.9,155.1 718.9,159.2" fill="none" stroke="#5a5a5c" stroke-width="0.5" clip-path="url(#eu)"/>
<path d="M727.2,149.6 729.9,153.7" fill="none" stroke="#5a5a5c" stroke-width="0.5" clip-path="url(#eu)"/>
<path d="M735.4,146.8 738.2,153.7" fill="none" stroke="#5a5a5c" stroke-width="0.5" clip-path="url(#eu)"/>
<path d="M636.8,173.6 652.6,171.3 666.2,160.0" fill="none" stroke="#5a5a5c" stroke-width="0.5" clip-path="url(#eu)"/>
<path d="M639.1,182.6 668.5,180.4" fill="none" stroke="#5a5a5c" stroke-width="0.5" clip-path="url(#eu)"/>
<path d="M800.0,203.6 813.6,203.6 827.2,212.6 829.4,221.7 827.2,235.3" fill="none" stroke="#5a5a5c" stroke-width="0.5" clip-path="url(#eu)"/>
<path d="M813.6,190.0 818.1,203.6" fill="none" stroke="#5a5a5c" stroke-width="0.5" clip-path="url(#eu)"/>
<use href="#p_af" fill="#fdcb68"/>
<path d="M524.6,158.0 524.6,163.4 521.3,169.1 514.9,177.1 505.2,183.6 495.5,190.0 487.4,191.7 475.0,194.0 470.0,185.0 500.0,158.0Z" fill="#af8ac1" stroke="#5a5a5c" stroke-width="0.5" clip-path="url(#af)"/>
<path d="M483.9,193.2 493.3,194.4 491.0,196.5 486.5,199.5 485.2,204.0 483.5,208.5 480.0,211.0 470.0,212.0 470.0,193.0Z" fill="#b27491" stroke="#5a5a5c" stroke-width="0.5" clip-path="url(#af)"/>
<path d="M524.6,163.4 524.6,158.0 550.4,157.0 552.0,165.8 556.9,177.1 561.7,183.6 561.7,193.3 565.0,201.3 553.6,209.4 542.3,217.5 524.6,207.8 508.4,201.3 495.5,194.9 493.9,193.3 495.5,190.0 505.2,183.6 514.9,177.1 521.3,169.1Z" fill="#af8ac1" stroke="#5a5a5c" stroke-width="0.5" clip-path="url(#af)"/>
<path d="M550.4,157.0 562.0,155.0 565.0,165.0 563.3,173.9 561.7,183.6 556.9,177.1 552.0,165.8Z" fill="#6d6e71" stroke="#5a5a5c" stroke-width="0.5" clip-path="url(#af)"/>
<path d="M603.7,176.3 603.7,170.0 640.0,170.0 640.0,201.3 636.0,201.3 603.7,203.0Z" fill="#af8ac1" stroke="#5a5a5c" stroke-width="0.5" clip-path="url(#af)"/>
<path d="M510.3,238.0 514.8,232.4 526.1,229.0 531.8,233.5 530.7,240.3 519.3,239.2 512.6,242.6Z" fill="#fee4ca" stroke="#5a5a5c" stroke-width="0.5" clip-path="url(#af)"/>
<path d="M494.4,249.3 501.2,253.9 503.5,259.5 500.0,262.0 493.0,256.0Z" fill="#fee4ca" stroke="#5a5a5c" stroke-width="0.5" clip-path="url(#af)"/>
<path d="M569.2,256.1 571.4,251.6 587.3,244.8 596.3,242.6 600.9,249.3 609.9,258.4 605.4,260.7 598.6,258.4 587.3,258.4 578.2,260.7 571.4,260.7Z" fill="#af8ac1" stroke="#5a5a5c" stroke-width="0.5" clip-path="url(#af)"/>
<path d="M578.2,260.7 587.3,258.4 598.6,258.4 605.4,260.7 621.2,265.2 625.8,267.5 623.5,278.8 619.0,287.8 621.2,296.9 614.5,308.2 605.0,309.7 595.1,305.7 591.2,295.9 579.4,297.9 565.6,292.0 564.6,290.1 571.4,285.6 578.2,274.3 582.8,267.5Z" fill="#fee4ca" stroke="#5a5a5c" stroke-width="0.5" clip-path="url(#af)"/>
<path d="M625.8,267.5 634.8,267.5 637.1,272.0 630.3,283.3 623.5,285.6 623.5,278.8Z" fill="#fee4ca" stroke="#5a5a5c" stroke-width="0.5" clip-path="url(#af)"/>
<path d="M619.0,285.6 623.5,284.4 637.1,284.4 660.0,285.0 660.0,335.0 640.0,345.0 634.5,349.1 626.6,353.0 624.6,347.1 622.7,341.2 626.6,333.3 624.6,325.4 632.5,325.4 628.6,315.6 624.6,311.7 618.7,307.7 621.2,296.9Z" fill="#af8ac1" stroke="#5a5a5c" stroke-width="0.5" clip-path="url(#af)"/>
<path d="M618.7,307.7 622.7,305.7 626.6,311.7 630.6,319.5 633.5,326.4 630.6,326.4 626.6,323.5 622.7,319.5 618.7,313.6Z" fill="#fdcb68" stroke="#5a5a5c" stroke-width="0.5" clip-path="url(#af)"/>
<path d="M562.6,328.4 587.2,329.4 587.2,345.1 585.3,353.0 583.3,362.8 577.4,362.8 560.0,350.0 555.0,330.0Z" fill="#6d6e71" stroke="#5a5a5c" stroke-width="0.5" clip-path="url(#af)"/>
<path d="M587.2,329.4 605.0,329.4 608.9,337.2 614.8,343.1 606.9,349.1 595.1,353.0 585.3,357.0 587.2,345.1Z" fill="#b27491" stroke="#5a5a5c" stroke-width="0.5" clip-path="url(#af)"/>
<path d="M605.0,329.4 616.8,323.5 624.6,325.4 626.6,333.3 622.7,341.2 618.7,343.1 614.8,343.1 608.9,337.2Z" fill="#6d6e71" stroke="#5a5a5c" stroke-width="0.5" clip-path="url(#af)"/>
<path d="M577.4,362.8 583.3,362.8 585.3,357.0 595.1,353.0 606.9,349.1 614.8,343.1 622.7,341.2 624.6,347.1 626.6,353.0 640.0,360.0 620.0,390.0 570.0,390.0 570.0,365.0Z" fill="#b27491" stroke="#5a5a5c" stroke-width="0.5" clip-path="url(#af)"/>
<path d="M507.3,202.4 507.3,226.0" fill="none" stroke="#5a5a5c" stroke-width="0.5" clip-path="url(#af)"/>
<path d="M476.6,227.2 489.6,226.0 507.3,226.0" fill="none" stroke="#5a5a5c" stroke-width="0.5" clip-path="url(#af)"/>
<path d="M489.6,226.0 489.6,234.3 502.6,236.7 502.6,257.9" fill="none" stroke="#5a5a5c" stroke-width="0.5" clip-path="url(#af)"/>
<path d="M507.3,226.0 510.8,229.6 529.7,229.6" fill="none" stroke="#5a5a5c" stroke-width="0.5" clip-path="url(#af)"/>
<path d="M541.5,217.8 541.5,228.4 529.7,229.6" fill="none" stroke="#5a5a5c" stroke-width="0.5" clip-path="url(#af)"/>
<path d="M541.5,228.4 551.0,227.2 572.2,230.8 579.3,201.3" fill="none" stroke="#5a5a5c" stroke-width="0.5" clip-path="url(#af)"/>
<path d="M565.1,201.3 579.3,201.3 602.9,203.6" fill="none" stroke="#5a5a5c" stroke-width="0.5" clip-path="url(#af)"/>
<path d="M602.9,203.6 598.2,227.2 600.6,248.5" fill="none" stroke="#5a5a5c" stroke-width="0.5" clip-path="url(#af)"/>
<path d="M539.2,230.8 539.2,257.9" fill="none" stroke="#5a5a5c" stroke-width="0.5" clip-path="url(#af)"/>
<path d="M572.2,230.8 577.0,239.0 568.7,248.5" fill="none" stroke="#5a5a5c" stroke-width="0.5" clip-path="url(#af)"/>
<path d="M633.6,203.6 640.7,220.1 657.2,230.8" fill="none" stroke="#5a5a5c" stroke-width="0.5" clip-path="url(#af)"/>
<path d="M633.6,250.8 640.7,231.9 657.2,231.9 676.1,236.7" fill="none" stroke="#5a5a5c" stroke-width="0.5" clip-path="url(#af)"/>
<path d="M636.0,262.6 654.9,260.3 673.8,243.8" fill="none" stroke="#5a5a5c" stroke-width="0.5" clip-path="url(#af)"/>
<path d="M612.4,260.3 636.0,265.0" fill="none" stroke="#5a5a5c" stroke-width="0.5" clip-path="url(#af)"/>
<path d="M555.7,262.6 569.9,262.6 572.2,281.5" fill="none" stroke="#5a5a5c" stroke-width="0.5" clip-path="url(#af)"/>
<path d="M482.5,234.3 489.6,234.3" fill="none" stroke="#5a5a5c" stroke-width="0.5" clip-path="url(#af)"/>
<path d="M502.6,243.8 510.8,239.0 529.7,243.8 539.2,243.8" fill="none" stroke="#5a5a5c" stroke-width="0.5" clip-path="url(#af)"/>
<path d="M595.1,305.7 595.1,327.4" fill="none" stroke="#5a5a5c" stroke-width="0.5" clip-path="url(#af)"/>
<use href="#p_af" fill="none" stroke="#5a5a5c" stroke-width="0.6"/>
<path d="M675.8,311.7 679.8,315.6 679.8,321.5 675.8,333.3 671.9,347.1 666.0,353.0 660.1,349.1 659.1,339.2 662.0,327.4 668.0,323.5 671.9,317.6Z" fill="#fee4ca" stroke="#5a5a5c" stroke-width="0.5" stroke-linejoin="round"/>
<path d="M511.3,91.9 516.7,91.9 518.5,95.5 523.0,97.3 521.2,101.8 524.8,104.5 528.3,108.0 532.8,110.7 531.9,113.4 524.8,115.2 517.6,116.1 512.2,117.9 515.8,113.4 515.8,108.0 513.1,102.7 511.3,97.3Z" fill="#6d6e71" stroke="#5a5a5c" stroke-width="0.5" stroke-linejoin="round"/>
<path d="M498.8,106.6 504.5,102.3 509.5,103.0 510.3,108.0 505.9,112.3 500.2,113.8 498.0,110.9Z" fill="#af8ac1" stroke="#5a5a5c" stroke-width="0.5" stroke-linejoin="round"/>
<path d="M553.9,140.5 556.0,140.3 556.2,145.5 554.2,145.7Z" fill="#6d6e71" stroke="#5a5a5c" stroke-width="0.5" stroke-linejoin="round"/>
<path d="M552.4,146.2 556.4,146.0 556.6,152.6 552.6,152.8 552.0,149.0Z" fill="#6d6e71" stroke="#5a5a5c" stroke-width="0.5" stroke-linejoin="round"/>
<path d="M565.9,154.9 571.8,156.1 573.0,159.0 568.3,158.4Z" fill="#6d6e71" stroke="#5a5a5c" stroke-width="0.5" stroke-linejoin="round"/>
<path d="M534.0,150.8 535.8,149.9 539.9,149.6 538.7,151.1Z" fill="#6d6e71" stroke="#5a5a5c" stroke-width="0.5" stroke-linejoin="round"/>
<path d="M597.9,163.3 605.5,163.9 603.3,165.3 598.4,164.6Z" fill="#6d6e71" stroke="#5a5a5c" stroke-width="0.5" stroke-linejoin="round"/>
<path d="M625.0,165.5 631.5,163.3 629.3,166.0Z" fill="#6d6e71" stroke="#5a5a5c" stroke-width="0.5" stroke-linejoin="round"/>
<path d="M770.4,243.8 774.9,246.1 776.1,252.8 771.5,255.1 769.3,250.6Z" fill="#6d6e71" stroke="#5a5a5c" stroke-width="0.5" stroke-linejoin="round"/>
<path d="M959.8,105.6 962.4,104.7 963.3,112.7 966.8,121.6 963.3,123.4 962.4,130.4 958.9,128.7 958.9,118.0 958.0,111.0Z" fill="#6d6e71" stroke="#5a5a5c" stroke-width="0.5" stroke-linejoin="round"/>
<path d="M957.2,134.6 960.4,133.1 965.1,136.2 969.8,137.8 966.7,140.9 962.0,140.9 957.2,142.5 954.9,140.2Z" fill="#6d6e71" stroke="#5a5a5c" stroke-width="0.5" stroke-linejoin="round"/>
<path d="M954.4,141.1 958.0,144.6 958.8,151.7 956.2,158.8 950.9,162.3 943.8,164.1 938.5,167.7 933.2,169.4 927.8,173.0 924.3,176.5 922.5,171.2 926.1,167.7 933.2,164.1 940.3,160.6 947.4,155.3 950.9,150.0 952.7,144.6Z" fill="#6d6e71" stroke="#5a5a5c" stroke-width="0.5" stroke-linejoin="round"/>
<path d="M971.0,137.0 973.6,135.8 973.8,136.4 971.2,137.6Z" fill="#6d6e71" stroke="#5a5a5c" stroke-width="0.5" stroke-linejoin="round"/>
<path d="M976.2,134.6 978.8,133.4 979.0,134.0 976.4,135.2Z" fill="#6d6e71" stroke="#5a5a5c" stroke-width="0.5" stroke-linejoin="round"/>
<path d="M981.4,132.2 984.0,131.0 984.2,131.6 981.6,132.8Z" fill="#6d6e71" stroke="#5a5a5c" stroke-width="0.5" stroke-linejoin="round"/>
<path d="M986.6,129.8 989.2,128.6 989.4,129.2 986.8,130.4Z" fill="#6d6e71" stroke="#5a5a5c" stroke-width="0.5" stroke-linejoin="round"/>
<path d="M991.8,127.4 994.4,126.2 994.6,126.8 992.0,128.0Z" fill="#6d6e71" stroke="#5a5a5c" stroke-width="0.5" stroke-linejoin="round"/>
<path d="M892.8,199.1 896.2,195.7 897.4,200.2 895.1,204.7Z" fill="#6d6e71" stroke="#5a5a5c" stroke-width="0.5" stroke-linejoin="round"/>
<path d="M857.7,212.6 861.1,209.2 864.5,211.5 862.3,216.0 857.7,216.0Z" fill="#6d6e71" stroke="#5a5a5c" stroke-width="0.5" stroke-linejoin="round"/>
<path d="M817.0,256.8 824.9,257.9 834.0,267.0 843.0,273.8 847.6,280.6 848.7,289.6 845.3,290.8 838.5,285.1 831.7,278.3 824.9,269.3 819.2,261.3Z" fill="#af8ac1" stroke="#5a5a5c" stroke-width="0.5" stroke-linejoin="round"/>
<path d="M847.6,293.0 858.9,294.2 872.5,297.6 874.7,301.0 863.4,299.8 849.8,296.4Z" fill="#af8ac1" stroke="#5a5a5c" stroke-width="0.5" stroke-linejoin="round"/>
<path d="M858.9,269.3 867.9,264.7 877.0,257.9 883.8,253.4 889.4,256.8 886.1,262.5 887.2,269.3 881.5,278.3 879.3,285.1 867.9,284.0 863.4,280.6 860.0,276.1Z" fill="#af8ac1" stroke="#5a5a5c" stroke-width="0.5" stroke-linejoin="round"/>
<path d="M890.6,271.5 895.1,269.3 906.4,269.3 899.6,273.8 897.4,278.3 900.8,285.1 897.4,289.6 894.0,285.1 892.8,289.6 889.4,285.1 890.6,278.3Z" fill="#af8ac1" stroke="#5a5a5c" stroke-width="0.5" stroke-linejoin="round"/>
<path d="M892.8,219.4 897.4,216.0 899.6,221.7 897.4,228.5 900.8,233.0 897.4,235.3 894.0,229.6Z" fill="#af8ac1" stroke="#5a5a5c" stroke-width="0.5" stroke-linejoin="round"/>
<path d="M899.6,248.9 906.4,244.3 912.1,248.9 911.0,255.7 906.4,254.5 901.9,253.4Z" fill="#af8ac1" stroke="#5a5a5c" stroke-width="0.5" stroke-linejoin="round"/>
<path d="M898.5,236.4 904.2,235.3 907.6,238.7 904.2,243.2 899.6,241.0Z" fill="#af8ac1" stroke="#5a5a5c" stroke-width="0.5" stroke-linejoin="round"/>
<path d="M883.8,246.6 890.6,237.6 891.7,238.7 885.6,247.1Z" fill="#af8ac1" stroke="#5a5a5c" stroke-width="0.5" stroke-linejoin="round"/>
<path d="M877.0,301.0 886.1,299.8 895.1,301.0 890.6,303.2 879.3,303.2Z" fill="#af8ac1" stroke="#5a5a5c" stroke-width="0.5" stroke-linejoin="round"/>
<path d="M897.4,299.8 906.4,297.6 913.2,298.2 908.7,302.1 899.6,302.8Z" fill="#af8ac1" stroke="#5a5a5c" stroke-width="0.5" stroke-linejoin="round"/>
<path d="M911.0,282.8 920.0,281.7 922.3,284.0 913.2,285.1Z" fill="#af8ac1" stroke="#5a5a5c" stroke-width="0.5" stroke-linejoin="round"/>
<path d="M914.4,271.5 917.8,268.1 918.9,276.1 915.5,277.2Z" fill="#af8ac1" stroke="#5a5a5c" stroke-width="0.5" stroke-linejoin="round"/>
<path d="M925.8,277.1 929.1,275.4 934.0,276.3 935.3,279.6 938.2,282.0 942.3,279.6 946.4,278.3 951.4,280.4 954.7,281.6 954.7,300.6 948.9,299.4 945.6,298.6 948.1,296.1 946.4,292.0 941.5,288.7 936.5,287.0 933.2,286.2 930.7,285.4 929.9,282.9 931.6,280.4 928.3,278.7Z" fill="#af8ac1" stroke="#5a5a5c" stroke-width="0.5" stroke-linejoin="round"/>
<path d="M954.7,281.6 959.7,283.7 966.3,286.2 970.4,289.5 972.9,292.0 976.2,292.8 976.2,294.4 974.5,295.3 977.9,299.4 981.2,301.9 985.3,305.2 983.6,306.0 979.5,304.4 975.4,301.1 972.1,297.8 967.9,296.9 964.6,297.8 961.3,300.2 957.2,301.9 954.7,301.1Z" fill="#fdcb68" stroke="#5a5a5c" stroke-width="0.5" stroke-linejoin="round"/>
<path d="M977.9,291.1 982.0,290.7 987.8,288.7 989.4,287.0 992.7,287.8 991.1,289.5 986.1,292.0 981.2,292.8Z" fill="#fdcb68" stroke="#5a5a5c" stroke-width="0.5" stroke-linejoin="round"/>
<path d="M984.5,281.2 989.0,284.0 992.7,286.8 992.0,287.4 988.0,284.8 984.0,281.8Z" fill="#fdcb68" stroke="#5a5a5c" stroke-width="0.5" stroke-linejoin="round"/>
<path d="M1000.0,291.0 1002.5,291.8 1002.2,292.5 999.8,291.7Z" fill="#fdcb68" stroke="#5a5a5c" stroke-width="0.5" stroke-linejoin="round"/>
<path d="M1005.0,294.0 1007.5,294.8 1007.2,295.5 1004.8,294.7Z" fill="#fdcb68" stroke="#5a5a5c" stroke-width="0.5" stroke-linejoin="round"/>
<path d="M1010.0,297.0 1012.5,297.8 1012.2,298.5 1009.8,297.7Z" fill="#fdcb68" stroke="#5a5a5c" stroke-width="0.5" stroke-linejoin="round"/>
<path d="M1013.0,300.0 1015.5,300.8 1015.2,301.5 1012.8,300.7Z" fill="#fdcb68" stroke="#5a5a5c" stroke-width="0.5" stroke-linejoin="round"/>
<path d="M1018.0,302.0 1020.5,302.8 1020.2,303.5 1017.8,302.7Z" fill="#fdcb68" stroke="#5a5a5c" stroke-width="0.5" stroke-linejoin="round"/>
<path d="M873.6,342.1 882.6,337.6 896.2,333.0 900.8,326.2 907.6,319.4 914.3,317.2 921.1,319.4 923.4,312.6 927.9,309.2 937.0,310.4 941.5,312.6 939.3,319.4 946.1,322.8 954.0,328.5 957.4,317.2 960.8,308.1 964.2,317.2 968.7,324.0 971.0,333.0 980.0,337.6 984.5,344.3 991.3,351.1 993.6,362.5 991.3,371.5 986.8,378.3 984.5,387.4 977.8,389.6 968.7,390.8 959.6,389.6 950.6,385.1 946.1,376.1 941.5,380.6 939.3,376.1 932.5,373.8 921.1,373.8 905.3,376.1 894.0,378.3 882.6,381.7 878.1,378.3 875.9,367.0 873.6,357.9 871.3,348.9Z" fill="#6d6e71" stroke="#5a5a5c" stroke-width="0.5" stroke-linejoin="round"/>
<path d="M967.3,400.2 973.1,400.9 978.1,398.8 978.8,404.5 975.9,408.1 971.6,408.8 968.8,404.5Z" fill="#6d6e71" stroke="#5a5a5c" stroke-width="0.5" stroke-linejoin="round"/>
<path d="M1052.1,380.1 1056.4,384.4 1060.8,388.7 1069.4,390.1 1069.4,394.4 1063.6,398.8 1060.8,402.3 1057.9,400.9 1058.6,397.3 1055.0,395.9 1059.3,391.6 1055.0,385.8Z" fill="#6d6e71" stroke="#5a5a5c" stroke-width="0.5" stroke-linejoin="round"/>
<path d="M1052.1,399.5 1056.4,400.9 1055.0,405.9 1050.7,410.3 1043.5,416.0 1037.8,418.9 1033.4,416.7 1036.3,413.1 1043.5,408.8 1049.3,404.5Z" fill="#6d6e71" stroke="#5a5a5c" stroke-width="0.5" stroke-linejoin="round"/>
<path d="M1026.4,336.4 1034.4,342.1 1032.1,343.2 1027.6,339.8Z" fill="#af8ac1" stroke="#5a5a5c" stroke-width="0.5" stroke-linejoin="round"/>
<path d="M1066.1,328.5 1070.6,327.4 1069.5,330.3Z" fill="#af8ac1" stroke="#5a5a5c" stroke-width="0.5" stroke-linejoin="round"/>
<path d="M1033.0,319.8 1034.6,320.1 1034.6,321.4 1033.0,321.1Z" fill="#af8ac1" stroke="#5a5a5c" stroke-width="0.5" stroke-linejoin="round"/>
<path d="M1037.4,322.7 1039.0,323.0 1039.0,324.3 1037.4,324.0Z" fill="#af8ac1" stroke="#5a5a5c" stroke-width="0.5" stroke-linejoin="round"/>
<path d="M1039.2,326.9 1040.8,327.2 1040.8,328.5 1039.2,328.2Z" fill="#af8ac1" stroke="#5a5a5c" stroke-width="0.5" stroke-linejoin="round"/>
<path d="M1040.7,330.8 1042.3,331.1 1042.3,332.4 1040.7,332.1Z" fill="#af8ac1" stroke="#5a5a5c" stroke-width="0.5" stroke-linejoin="round"/>
<path d="M560.0,27.2 568.7,25.8 577.2,25.8 583.0,24.3 594.4,24.3 608.8,25.1 604.5,27.2 597.3,27.9 601.6,31.5 594.4,32.9 588.7,30.1 583.0,27.9 578.7,33.7 573.0,35.1 567.2,32.2 562.9,29.4Z" fill="#6d6e71" stroke="#5a5a5c" stroke-width="0.5" stroke-linejoin="round"/>
</svg>
<div id="title">Percent Growth in Population</div>
<div class="lg" style="left:349px;background:#b27491"></div><div class="lt" style="left:375px">–0%</div>
<div class="lg" style="left:434px;background:#6d6e71"></div><div class="lt" style="left:460px">0%–1%</div>
<div class="lg" style="left:546px;background:#af8ac1"></div><div class="lt" style="left:576px">1%</div>
<div class="lg" style="left:624px;background:#fdcb68"></div><div class="lt" style="left:650px">2%</div>
<div class="lg" style="left:699px;background:#fee4ca"></div><div class="lt" style="left:724px">3%+</div>
</div>
</body></html>
